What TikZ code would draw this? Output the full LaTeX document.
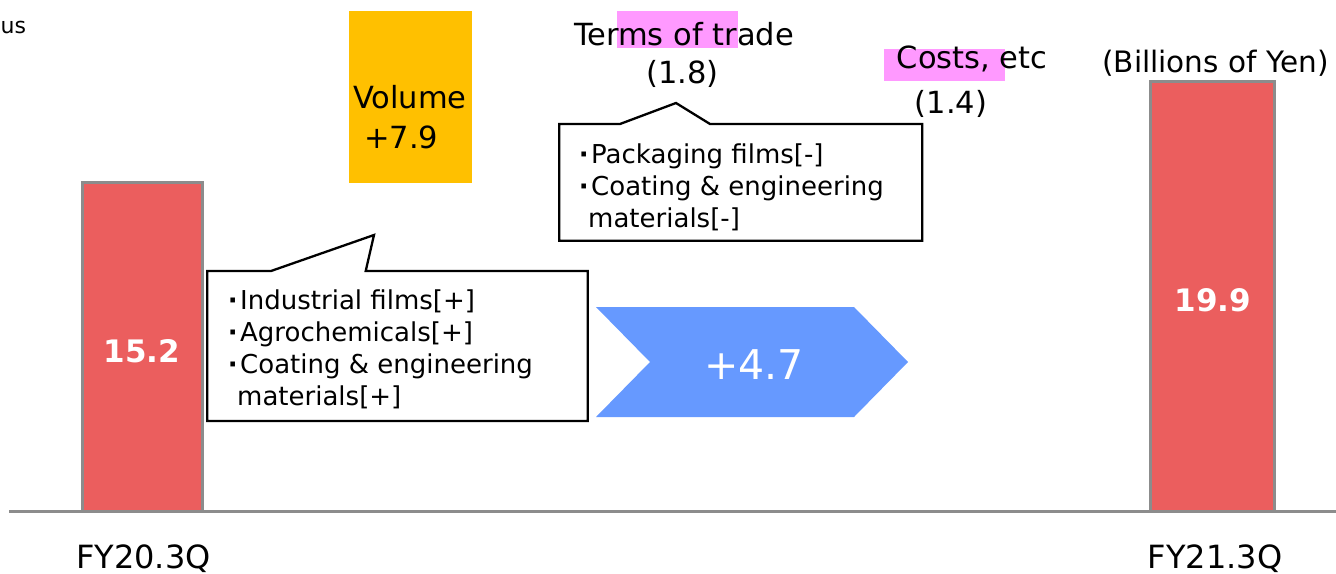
\documentclass[tikz,border=0pt]{standalone}
\usepackage{fontspec}
\setmainfont{DejaVu Sans}
\definecolor{barred}{RGB}{235,94,94}
\definecolor{bargray}{RGB}{140,140,140}
\definecolor{volgold}{RGB}{255,192,0}
\definecolor{hlpink}{RGB}{255,153,255}
\definecolor{netblue}{RGB}{102,153,255}
\newcommand\bul{\makebox[15pt][c]{\bfseries ·}}
\tikzset{
  lbl/.style={inner sep=0pt, anchor=base, font=\fontsize{30.5}{36}\selectfont},
  bar/.style={draw=bargray, fill=barred, line width=3pt, inner sep=0pt},
  barval/.style={inner sep=0pt, anchor=base, text=white, font=\bfseries\fontsize{31}{36}\selectfont},
  bubble/.style={draw=black, fill=white, line width=2.3pt, line join=miter},
  item/.style={inner sep=0pt, anchor=base west, font=\fontsize{26}{32}\selectfont},
}
\begin{document}
\begin{tikzpicture}[x=1pt,y=-1pt]
\useasboundingbox (0,0) rectangle (1336,573);

% axis line
\coordinate (axL) at (9,511.7);
\coordinate (axR) at (1336,511.7);
\draw[bargray, line width=3pt] (axL) -- (axR);

% bars
\node[bar, minimum width=120.4pt, minimum height=329.2pt] (bar1) at (142.5,347.1) {};
\node[bar, minimum width=123.5pt, minimum height=430.7pt] (bar2) at (1212.25,296.35) {};
\node[barval] (v1) at (142,362) {15.2};
\node[barval] (v2) at (1213,311) {19.9};
\node[lbl, font=\fontsize{32}{38}\selectfont] (q1) at (143.5,568) {FY20.3Q};
\node[lbl, font=\fontsize{32}{38}\selectfont] (q2) at (1215,568) {FY21.3Q};

% volume effect
\node[fill=volgold, minimum width=123pt, minimum height=171.7pt, inner sep=0pt] (vol) at (410.5,96.85) {};
\node[lbl, anchor=base west] (volt) at (353,108) {Volume};
\node[lbl, anchor=base west] (volv) at (364,148) {+7.9};

% terms of trade and costs
\fill[hlpink] (617,11) rectangle (738,48);
\node[lbl] (tot) at (684,45) {Terms of trade};
\node[lbl] (tov) at (682.5,83) {(1.8)};
\fill[hlpink] (884,49) rectangle (1005,81);
\node[lbl] (cst) at (972,68) {Costs, etc};
\node[lbl] (cstv) at (951,113) {(1.4)};

% unit and heading fragment
\node[lbl, font=\fontsize{29.5}{36}\selectfont] (unit) at (1215.5,72) {(Billions of Yen)};
\node[lbl, anchor=base west, font=\fontsize{22}{28}\selectfont] (us) at (0.5,33) {us};

% callout for volume
\draw[bubble] (207.3,271) -- (271,271) -- (374,235) -- (365.7,271) -- (587.7,271)
  -- (587.7,421) -- (207.3,421) -- cycle;
\node[item] (a1) at (225,309) {\bul Industrial films[+]};
\node[item] (a2) at (225,341) {\bul Agrochemicals[+]};
\node[item] (a3) at (225,373) {\bul Coating \& engineering};
\node[item] (a4) at (237,405) {materials[+]};

% callout for terms of trade
\draw[bubble] (559.3,124) -- (620,124) -- (676,103) -- (710,124) -- (922.3,124)
  -- (922.3,240.7) -- (559.3,240.7) -- cycle;
\node[item] (b1) at (576,163) {\bul Packaging films[-]};
\node[item] (b2) at (576,195) {\bul Coating \& engineering};
\node[item] (b3) at (588,227) {materials[-]};

% net change chevron
\fill[netblue] (596,307) -- (854,307) -- (908,362) -- (854,417) -- (596,417) -- (650,362) -- cycle;
\node[lbl, text=white, font=\fontsize{41}{48}\selectfont] (net) at (754,379) {+4.7};
\end{tikzpicture}
\end{document}
